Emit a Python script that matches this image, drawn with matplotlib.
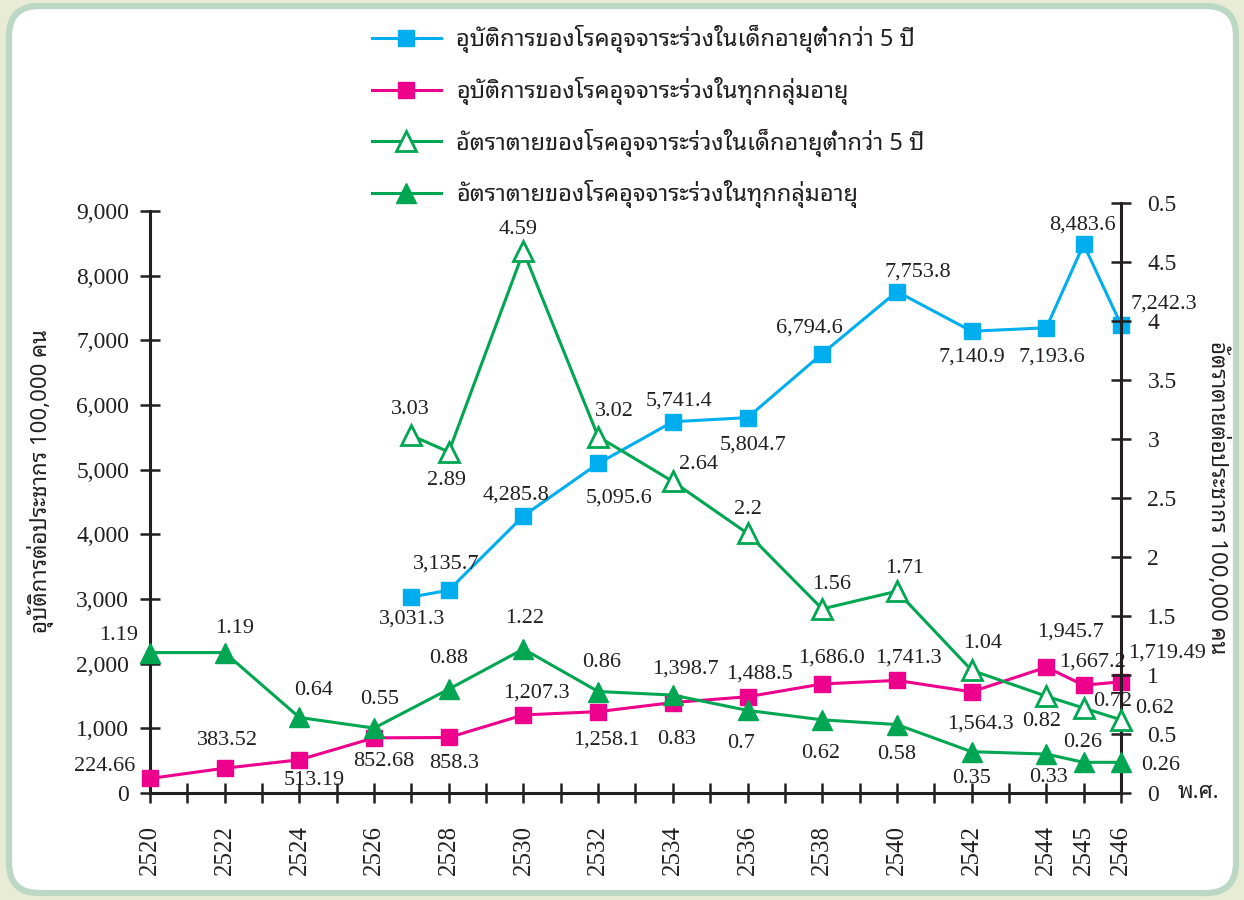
import matplotlib
matplotlib.use('Agg')
import matplotlib.pyplot as plt
from matplotlib import font_manager, ft2font
from matplotlib.patches import FancyBboxPatch

# data (พ.ศ.)
years_u5 = [2527, 2528, 2530, 2532, 2534, 2536, 2538, 2540, 2542, 2544, 2545, 2546]
years_all = [2520, 2522, 2524, 2526, 2528, 2530, 2532, 2534, 2536, 2538, 2540, 2542, 2544, 2545, 2546]

inc_u5 = [3031.3, 3135.7, 4285.8, 5095.6, 5741.4, 5804.7, 6794.6, 7753.8, 7140.9, 7193.6, 8483.6, 7242.3]
inc_all = [224.66, 383.52, 513.19, 852.68, 858.3, 1207.3, 1258.1, 1398.7, 1488.5, 1686.0, 1741.3,
           1564.3, 1945.7, 1667.2, 1719.49]
mort_u5 = [3.03, 2.89, 4.59, 3.02, 2.64, 2.2, 1.56, 1.71, 1.04, 0.82, 0.72, 0.62]
mort_all = [1.19, 1.19, 0.64, 0.55, 0.88, 1.22, 0.86, 0.83, 0.7, 0.62, 0.58, 0.35, 0.33, 0.26, 0.26]

series_names = [
    'อุบัติการของโรคอุจจาระร่วงในเด็กอายุต่ำกว่า 5 ปี',
    'อุบัติการของโรคอุจจาระร่วงในทุกกลุ่มอายุ',
    'อัตราตายของโรคอุจจาระร่วงในเด็กอายุต่ำกว่า 5 ปี',
    'อัตราตายของโรคอุจจาระร่วงในทุกกลุ่มอายุ',
]
left_label = 'อุบัติการต่อประชากร 100,000 คน'
right_label = 'อัตราตายต่อประชากร 100,000 คน'
x_unit = 'พ.ศ.'

left_ticks = list(range(0, 9001, 1000))
right_ticks = [0, 0.5, 1, 1.5, 2, 2.5, 3, 3.5, 4, 4.5, 5]
right_tick_labels = ['0', '0.5', '1', '1.5', '2', '2.5', '3', '3.5', '4', '4.5', '0.5']
x_label_years = [2520, 2522, 2524, 2526, 2528, 2530, 2532, 2534, 2536, 2538, 2540, 2542, 2544, 2545, 2546]

# label offsets in pixels (dx, dy up)
off_inc_u5 = [(1, -22), (-3, 26), (-7, 21), (21, -35), (6, 21), (6, -27), (-13, 26), (21, 20),
              (0, -26), (6, -29), (-1, 19), (43, 21)]
off_inc_all = [(-45, 12), (3, 28), (15, -21), (10, -24), (5, -26), (13, 22), (8, -28), (13, 34),
               (12, 23), (9, 26), (11, 22), (9, -32), (24, 35), (9, 23), (46, 29)]
off_mort_u5 = [(-1, 26), (-2, -29), (-5, 22), (16, 25), (26, 17), (0, 24), (9, 24), (8, 23),
               (11, 27), (-5, -25), (29, 7), (34, 11)]
off_mort_all = [(-31, 17), (10, 24), (14, 27), (6, 29), (0, 31), (1, 31), (3, 29), (4, -44),
                (-6, -33), (-2, -34), (0, -30), (0, -27), (2, -23), (-1, 20), (40, -3)]

BLUE = '#00aeef'
PINK = '#ec008c'
GREEN = '#00a651'
INK = '#231f20'


def find_thai_font():
    preferred = ['Noto Sans Thai Looped', 'Noto Serif Thai', 'Norasi', 'Loma', 'Garuda',
                 'Noto Sans Thai', 'Kinnari', 'Tlwg Typo']
    found = {}
    for f in font_manager.fontManager.ttflist:
        try:
            if 0x0E2D in ft2font.FT2Font(f.fname).get_charmap():
                found[f.name] = f.fname
        except Exception:
            pass
    for name in preferred:
        if name in found:
            return name
    if found:
        return sorted(found)[0]
    return 'DejaVu Sans'


THAI = find_thai_font()
NUM = 'Liberation Serif'
plt.rcParams['font.family'] = [NUM, 'DejaVu Serif']
thai_fam = [THAI, NUM, 'DejaVu Sans']

W, H = 1244, 900
fig = plt.figure(figsize=(W / 100, H / 100), dpi=100, facecolor='#e9ecd4')

# background frame
bg = fig.add_axes([0, 0, 1, 1], zorder=-5)
bg.set_xlim(0, W)
bg.set_ylim(0, H)
bg.axis('off')
bg.add_patch(FancyBboxPatch((9, 7), 1227, 887, boxstyle='round,pad=0,rounding_size=30',
                            facecolor='white', edgecolor='#bdd7c5', linewidth=4.5))

ax = fig.add_axes([150 / W, 107 / H, 971 / W, 590 / H])
ax.patch.set_visible(False)
ax2 = ax.twinx()

ax.set_xlim(2520, 2546)
ax.set_ylim(0, 9000 * 590 / 582)
ax2.set_ylim(0, 5)

l1, = ax.plot(years_u5, inc_u5, color=BLUE, lw=2.2, marker='s', ms=12, clip_on=False, zorder=3)
l2, = ax.plot(years_all, inc_all, color=PINK, lw=2.2, marker='s', ms=12, clip_on=False, zorder=3)
l3, = ax2.plot(years_u5, mort_u5, color=GREEN, lw=2.2, marker='^', ms=14, mfc='white', mew=2,
               clip_on=False, zorder=3)
l4, = ax2.plot(years_all, mort_all, color=GREEN, lw=2.2, marker='^', ms=14, clip_on=False, zorder=3)

lab_kw = dict(textcoords='offset pixels', ha='center', va='center', fontsize=16, color=INK,
              annotation_clip=False, zorder=5)
for a, xs, ys, offs in [(ax, years_u5, inc_u5, off_inc_u5), (ax, years_all, inc_all, off_inc_all),
                        (ax2, years_u5, mort_u5, off_mort_u5), (ax2, years_all, mort_all, off_mort_all)]:
    for x, y, (dx, dy) in zip(xs, ys, offs):
        a.annotate(f'{y:,}', (x, y), xytext=(dx, dy), **lab_kw)

# axes styling
for s in ['top', 'right']:
    ax.spines[s].set_visible(False)
for s in ['top', 'left', 'bottom']:
    ax2.spines[s].set_visible(False)
ax.spines['left'].set_bounds(0, 9000)
for sp in [ax.spines['left'], ax.spines['bottom'], ax2.spines['right']]:
    sp.set_linewidth(2.2)
    sp.set_color(INK)

ax.set_yticks(left_ticks)
ax.set_yticklabels([f'{t:,}' for t in left_ticks])
ax.set_xticks(range(2520, 2547))
ax.set_xticklabels([str(y) if y in x_label_years else '' for y in range(2520, 2547)], rotation=90)
ax.tick_params(axis='y', direction='inout', length=14, width=1.8, color=INK, labelsize=17,
               labelcolor=INK, pad=8)
ax.tick_params(axis='x', direction='inout', length=14, width=1.8, color=INK, labelsize=18,
               labelcolor=INK, pad=16)
ax2.set_yticks(right_ticks)
ax2.set_yticklabels(right_tick_labels)
ax2.tick_params(axis='y', direction='inout', length=14, width=1.8, color=INK, labelsize=17,
                labelcolor=INK, pad=12)

fig.text(41 / W, 1 - 481 / H, left_label, rotation=90, ha='center', va='center', fontsize=16,
         family=thai_fam, color=INK)
fig.text(1217 / W, 1 - 498 / H, right_label, rotation=270, ha='center', va='center', fontsize=16,
         family=thai_fam, color=INK)
fig.text(1198 / W, 1 - 793 / H, x_unit, ha='center', va='center', fontsize=16, family=thai_fam,
         color=INK)

leg = fig.legend([l1, l2, l3, l4], series_names, loc='upper left', bbox_to_anchor=(351 / W, 1 - 4 / H),
                 frameon=False, handlelength=2.9, handletextpad=0.65, labelspacing=1.0,
                 prop={'family': thai_fam, 'size': 17})
for t in leg.get_texts():
    t.set_color(INK)

fig.savefig('out.png', dpi=100, facecolor=fig.get_facecolor())
